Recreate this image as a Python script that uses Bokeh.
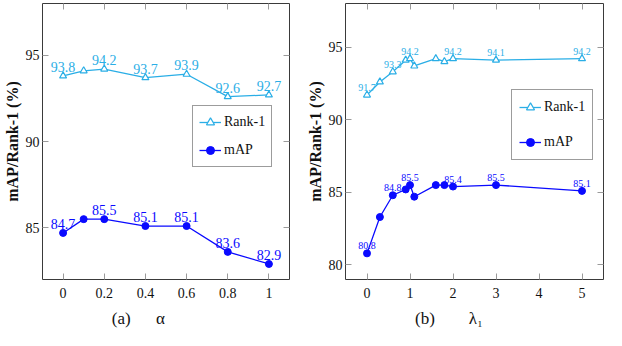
from bokeh.plotting import figure
from bokeh.layouts import row
from bokeh.models import ColumnDataSource, LinearAxis, FixedTicker, Legend, LegendItem, Range1d
from bokeh.core.properties import value
from bokeh.embed import file_html
from bokeh.resources import INLINE

# ---- panel (a): alpha ----
alpha = [0, 0.1, 0.2, 0.4, 0.6, 0.8, 1]
rank1_a = [93.8, 94.1, 94.2, 93.7, 93.9, 92.6, 92.7]
map_a = [84.7, 85.5, 85.5, 85.1, 85.1, 83.6, 82.9]
labeled_a = [0, 0.2, 0.4, 0.6, 0.8, 1]
x_ticks_a = [0, 0.2, 0.4, 0.6, 0.8, 1]
x_tick_labels_a = ["0", "0.2", "0.4", "0.6", "0.8", "1"]
y_ticks_a = [85, 90, 95]

# ---- panel (b): lambda_1 ----
lam = [0, 0.3, 0.6, 0.9, 1.0, 1.1, 1.6, 1.8, 2, 3, 5]
rank1_b = [91.7, 92.6, 93.3, 94.1, 94.2, 93.7, 94.2, 94.0, 94.2, 94.1, 94.2]
map_b = [80.8, 83.3, 84.8, 85.2, 85.5, 84.7, 85.5, 85.5, 85.4, 85.5, 85.1]
labeled_b = [0, 0.6, 1.0, 2, 3, 5]
x_ticks_b = [0, 1, 2, 3, 4, 5]
x_tick_labels_b = ["0", "1", "2", "3", "4", "5"]
y_ticks_b = [80, 85, 90, 95]

series_names = ["Rank-1", "mAP"]
NB = "\u00a0"
xlabel_a = "(a)" + NB * 6 + "α" + NB * 13
xlabel_b = "(b)" + NB * 8 + "λ₁" + NB * 12
ylabel = "mAP/Rank-1 (%)"

RANK_COLOR = "#2aaee6"
MAP_COLOR = "#0a0aff"
FRAME = "#3a3a3a"
TICK = "#9a9a9a"
SERIF = "Liberation Serif"


def make_panel(xs, r1, mp, labeled, xt, xtl, yt, xr, yr, xlabel, width, bl, br,
               lab_size, leg_loc, leg_spacing, leg_pad):
    p = figure(width=width, height=330, output_backend="svg", toolbar_location=None,
               x_range=Range1d(*xr), y_range=Range1d(*yr),
               min_border_left=bl, min_border_right=br, min_border_top=3,
               min_border_bottom=0)
    p.xgrid.visible = False
    p.ygrid.visible = False
    p.outline_line_color = FRAME
    p.outline_line_width = 1
    p.background_fill_color = "white"
    p.border_fill_color = "white"

    for ax, ticks in ((p.xaxis[0], xt), (p.yaxis[0], yt)):
        ax.ticker = FixedTicker(ticks=ticks)
        ax.axis_line_color = None
        ax.major_tick_in = 6
        ax.major_tick_out = 0
        ax.major_tick_line_color = TICK
        ax.minor_tick_line_color = None
        ax.major_label_text_font = SERIF
        ax.major_label_text_font_size = "14px"
        ax.major_label_text_color = "#111111"
        ax.axis_label_text_font = SERIF
        ax.axis_label_text_color = "#111111"
    p.xaxis[0].major_label_overrides = {t: l for t, l in zip(xt, xtl)}
    p.xaxis[0].major_label_standoff = 8
    p.xaxis[0].axis_label = xlabel
    p.xaxis[0].axis_label_text_font_size = "17px"
    p.xaxis[0].axis_label_text_font_style = "normal"
    p.xaxis[0].axis_label_standoff = 8
    p.yaxis[0].major_label_standoff = 3
    p.yaxis[0].axis_label = ylabel
    p.yaxis[0].axis_label_text_font_size = "16px"
    p.yaxis[0].axis_label_text_font_style = "bold"
    p.yaxis[0].axis_label_standoff = 2

    # mirrored inward ticks on top and right (no labels drawn)
    for side, ticks in (("above", xt), ("right", yt)):
        ax = LinearAxis(ticker=FixedTicker(ticks=ticks))
        ax.axis_line_color = None
        ax.major_tick_in = 6
        ax.major_tick_out = 0
        ax.major_tick_line_color = TICK
        ax.minor_tick_line_color = None
        ax.major_label_text_font_size = "1px"
        ax.major_label_text_color = None
        ax.major_label_standoff = 0
        p.add_layout(ax, side)

    src = ColumnDataSource(dict(x=xs, r1=r1, mp=mp))
    l1 = p.line("x", "r1", source=src, color=RANK_COLOR, line_width=1.3)
    s1 = p.scatter("x", "r1", source=src, marker="triangle", size=7,
                   fill_color="white", line_color=RANK_COLOR, line_width=1.2)
    l2 = p.line("x", "mp", source=src, color=MAP_COLOR, line_width=1.3)
    s2 = p.scatter("x", "mp", source=src, marker="circle", size=7,
                   fill_color=MAP_COLOR, line_color=MAP_COLOR)

    for ys, col in ((r1, RANK_COLOR), (mp, MAP_COLOR)):
        lx = [x for x in xs if x in labeled]
        ly = [y for x, y in zip(xs, ys) if x in labeled]
        lt = [f"{y:.1f}" for y in ly]
        ls = ColumnDataSource(dict(x=lx, y=ly, t=lt))
        p.text("x", "y", text="t", source=ls, text_align="center",
               text_baseline="bottom", y_offset=-4, text_color=col,
               text_font=value(SERIF), text_font_size=lab_size)

    leg = Legend(items=[LegendItem(label=series_names[0], renderers=[l1, s1]),
                        LegendItem(label=series_names[1], renderers=[l2, s2])],
                 location=leg_loc)
    leg.border_line_color = FRAME
    leg.border_line_width = 1
    leg.background_fill_alpha = 1
    leg.label_text_font = SERIF
    leg.label_text_font_size = "14px"
    leg.label_text_color = "#111111"
    leg.glyph_width = 22
    leg.glyph_height = 20
    leg.label_height = 20
    leg.label_standoff = 3
    leg.padding = leg_pad
    leg.spacing = leg_spacing
    leg.margin = 0
    p.add_layout(leg)
    return p


p1 = make_panel(alpha, rank1_a, map_a, labeled_a, x_ticks_a, x_tick_labels_a, y_ticks_a,
                (-0.1, 1.1), (82, 98), xlabel_a, 303, 30, 14, "14px", (150, 112), 8, 6)
p2 = make_panel(lam, rank1_b, map_b, labeled_b, x_ticks_b, x_tick_labels_b, y_ticks_b,
                (-0.5, 5.5), (79, 98), xlabel_b, 303, 40, 3, "10px", (166, 119), 15, 7)

layout = row(p1, p2)
open("out.html", "w").write(file_html(layout, INLINE))
